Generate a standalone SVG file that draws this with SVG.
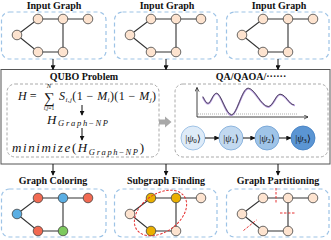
<svg xmlns="http://www.w3.org/2000/svg" xmlns:xlink="http://www.w3.org/1999/xlink" width="331" height="240" viewBox="0 0 331 240">
<style>
.title{font-family:"Liberation Serif","Times New Roman",serif;font-weight:bold;font-size:10px;fill:#111;text-anchor:middle}
.panel{fill:none;stroke:#9dc3e6;stroke-width:1.2;stroke-dasharray:4 3}
.inner{fill:none;stroke:#a0a0a0;stroke-width:0.9;stroke-dasharray:3 2}
.edge{stroke:#333;stroke-width:1.1;fill:none}
.n{fill:#fde3cf;stroke:#444;stroke-width:0.8}
.red{fill:#f26a52}
.blue{fill:#5aaee3}
.green{fill:#7dc95e}
.gold{fill:#eab000}
.math{font-family:"Liberation Serif","Times New Roman",serif;font-style:italic;fill:#111}
.up{font-style:normal}
.conn{stroke:#111;stroke-width:1;fill:none;marker-end:url(#ah)}
.cut{stroke:#e53030;stroke-width:1;stroke-dasharray:2.5 1.5;fill:none}
.psi{stroke-width:0.8}
</style>
<defs>
<marker id="ah" viewBox="0 0 6 6" refX="5" refY="3" markerWidth="5" markerHeight="5" orient="auto" markerUnits="userSpaceOnUse">
<path d="M0,0 L6,3 L0,6 Z" fill="#111"/>
</marker>
<marker id="ax" viewBox="0 0 6 6" refX="5" refY="3" markerWidth="5" markerHeight="5" orient="auto" markerUnits="userSpaceOnUse">
<path d="M0,0.5 L5,3 L0,5.5" fill="none" stroke="#111" stroke-width="0.8"/>
</marker>
<g id="edges">
<path class="edge" d="M17,35 L38,19 L88,19 M63,19 L63,52 L38,52 L17,35"/>
</g>
</defs>

<!-- Top panels -->
<g id="input1">
<text class="title" x="54" y="9">Input Graph</text>
<rect class="panel" x="1.5" y="12" width="104.5" height="47" rx="8"/>
<use xlink:href="#edges"/>
<circle class="n" cx="17" cy="35" r="4.8"/><circle class="n" cx="38" cy="19" r="4.8"/><circle class="n" cx="63" cy="19" r="4.8"/>
<circle class="n" cx="88" cy="19" r="4.8"/><circle class="n" cx="38" cy="52" r="4.8"/><circle class="n" cx="63" cy="52" r="4.8"/>
</g>
<g id="input2" transform="translate(113,0)">
<text class="title" x="54" y="9">Input Graph</text>
<rect class="panel" x="1.5" y="12" width="102.5" height="47" rx="8"/>
<use xlink:href="#edges"/>
<circle class="n" cx="17" cy="35" r="4.8"/><circle class="n" cx="38" cy="19" r="4.8"/><circle class="n" cx="63" cy="19" r="4.8"/>
<circle class="n" cx="88" cy="19" r="4.8"/><circle class="n" cx="38" cy="52" r="4.8"/><circle class="n" cx="63" cy="52" r="4.8"/>
</g>
<g id="input3" transform="translate(225,0)">
<text class="title" x="54" y="9">Input Graph</text>
<rect class="panel" x="1.5" y="12" width="102.5" height="47" rx="8"/>
<use xlink:href="#edges"/>
<circle class="n" cx="17" cy="35" r="4.8"/><circle class="n" cx="38" cy="19" r="4.8"/><circle class="n" cx="63" cy="19" r="4.8"/>
<circle class="n" cx="88" cy="19" r="4.8"/><circle class="n" cx="38" cy="52" r="4.8"/><circle class="n" cx="63" cy="52" r="4.8"/>
</g>

<!-- Middle box -->
<g id="process">
<rect x="1" y="69.5" width="329" height="94.5" fill="#fff" stroke="#555" stroke-width="1"/>
</g>

<g id="qubo">
<text class="title" x="84" y="80">QUBO Problem</text>
<rect class="inner" x="7" y="84" width="152" height="73" rx="8"/>
<text class="math" x="18" y="100" font-size="12">H <tspan class="up">=</tspan></text>
<text class="math up" x="49" y="102.5" font-size="15" text-anchor="middle" style="font-style:normal">∑</text>
<text class="math" x="49" y="87.5" font-size="6.5" text-anchor="middle">N</text>
<text class="math" x="49" y="110.3" font-size="5.5" text-anchor="middle">i,j<tspan class="up">=1</tspan></text>
<text class="math" x="59" y="100" font-size="12" textLength="97" lengthAdjust="spacing">S<tspan font-size="7" dy="2">i,j</tspan><tspan class="up" dy="-2">(1 − </tspan>M<tspan font-size="7" dy="2">i</tspan><tspan class="up" dy="-2">)(1 − </tspan>M<tspan font-size="7" dy="2">j</tspan><tspan class="up" dy="-2">)</tspan></text>
<text class="math" x="47" y="123.8" font-size="13" textLength="61" lengthAdjust="spacing">H<tspan font-size="8.5" dy="2.5">Graph<tspan class="up">−</tspan>NP</tspan></text>
<text class="math" x="12" y="152" font-size="13" textLength="132" lengthAdjust="spacing">minimize<tspan class="up">(</tspan>H<tspan font-size="8.5" dy="2.5">Graph<tspan class="up">−</tspan>NP</tspan><tspan class="up" dy="-2.5">)</tspan></text>
<line class="conn" x1="82" y1="105" x2="82" y2="115"/>
<line class="conn" x1="82" y1="128" x2="82" y2="140"/>
</g>

<g id="qaoa">
<text class="title" x="251" y="80">QA/QAOA/······</text>
<rect class="inner" x="175" y="84" width="153" height="73" rx="8"/>
<line x1="197" y1="117" x2="197" y2="87.5" stroke="#111" stroke-width="0.8" marker-end="url(#ax)"/>
<line x1="197" y1="117" x2="308" y2="117" stroke="#111" stroke-width="0.8" marker-end="url(#ax)"/>
<line x1="198" y1="114" x2="298" y2="114" stroke="#999" stroke-width="0.8" stroke-dasharray="1 1"/>
<path d="M202.7,97 C205,101 206,104 208.3,103.7 C211,103.5 213,93.5 216.7,93.7 C221,94 226,115.5 231.7,115.3 C237,115 242,88.5 248.3,88.7 C255,89 261,107 268.3,107 C273,107 276,94.7 280,94.7 C286,94.7 289,105.5 295,105.3" fill="none" stroke="#b79be0" stroke-width="1.8"/>
<path d="M202.7,96.5 C205,100.5 206,103.5 208.3,103.2 C211,103 213,93 216.7,93.2 C221,93.5 226,115 231.7,114.8 C237,114.5 242,88 248.3,88.2 C255,88.5 261,106.5 268.3,106.5 C273,106.5 276,94.2 280,94.2 C286,94.2 289,105 294,104.8" fill="none" stroke="#222" stroke-width="0.7"/>
<circle class="psi" cx="193" cy="138" r="12" fill="#deebf8" stroke="#8db6df"/>
<circle class="psi" cx="231" cy="138" r="12" fill="#c2d9f0" stroke="#7aa8d8"/>
<circle class="psi" cx="267" cy="138" r="12" fill="#9fc4e8" stroke="#6b9dd2"/>
<circle class="psi" cx="303" cy="138" r="12" fill="#5b95d3" stroke="#3f7cc0"/>
<text class="math up" x="193" y="141.5" font-size="10" text-anchor="middle" style="font-style:normal">|<tspan font-style="italic">ψ</tspan><tspan font-size="7" dy="1.5">0</tspan><tspan dy="-1.5">⟩</tspan></text>
<text class="math up" x="231" y="141.5" font-size="10" text-anchor="middle" style="font-style:normal">|<tspan font-style="italic">ψ</tspan><tspan font-size="7" dy="1.5">1</tspan><tspan dy="-1.5">⟩</tspan></text>
<text class="math up" x="267" y="141.5" font-size="10" text-anchor="middle" style="font-style:normal">|<tspan font-style="italic">ψ</tspan><tspan font-size="7" dy="1.5">2</tspan><tspan dy="-1.5">⟩</tspan></text>
<text class="math up" x="303" y="141.5" font-size="10" text-anchor="middle" style="font-style:normal">|<tspan font-style="italic">ψ</tspan><tspan font-size="7" dy="1.5">3</tspan><tspan dy="-1.5">⟩</tspan></text>
</g>

<!-- Bottom panels -->
<g id="coloring" transform="translate(0,179)">
<text class="title" x="53" y="5">Graph Coloring</text>
<rect class="panel" x="1.5" y="10" width="104.5" height="48" rx="8"/>
<use xlink:href="#edges"/>
<circle class="n blue" cx="17" cy="35" r="4.8"/><circle class="n red" cx="38" cy="19" r="4.8"/><circle class="n blue" cx="63" cy="19" r="4.8"/>
<circle class="n red" cx="88" cy="19" r="4.8"/><circle class="n red" cx="38" cy="52" r="4.8"/><circle class="n green" cx="63" cy="52" r="4.8"/>
</g>
<g id="subgraph" transform="translate(113,179)">
<text class="title" x="53" y="5">Subgraph Finding</text>
<rect class="panel" x="1.5" y="10" width="102.5" height="48" rx="8"/>
<use xlink:href="#edges"/>
<circle class="n" cx="17" cy="35" r="4.8"/><circle class="n gold" cx="38" cy="19" r="4.8"/><circle class="n gold" cx="63" cy="19" r="4.8"/>
<circle class="n" cx="88" cy="19" r="4.8"/><circle class="n gold" cx="38" cy="52" r="4.8"/><circle class="n" cx="63" cy="52" r="4.8"/>
<ellipse class="cut" cx="47.5" cy="34" rx="29" ry="19" transform="rotate(-35 47.5 34)"/>
</g>
<g id="partitioning" transform="translate(225,179)">
<text class="title" x="53" y="5">Graph Partitioning</text>
<rect class="panel" x="1.5" y="10" width="102.5" height="48" rx="8"/>
<use xlink:href="#edges"/>
<circle class="n" cx="17" cy="35" r="4.8"/><circle class="n" cx="38" cy="19" r="4.8"/><circle class="n" cx="63" cy="19" r="4.8"/>
<circle class="n" cx="88" cy="19" r="4.8"/><circle class="n" cx="38" cy="52" r="4.8"/><circle class="n" cx="63" cy="52" r="4.8"/>
<line class="cut" x1="51" y1="9" x2="51" y2="25"/>
<line class="cut" x1="55" y1="34" x2="71" y2="34"/>
<line class="cut" x1="18.5" y1="51.5" x2="31.5" y2="41"/>
</g>

<!-- Connectors -->
<g id="connectors">
<line class="conn" x1="53" y1="59" x2="53" y2="69.5"/>
<line class="conn" x1="166" y1="59" x2="166" y2="69.5"/>
<line class="conn" x1="278" y1="59" x2="278" y2="69.5"/>
<line class="conn" x1="53" y1="164" x2="53" y2="175"/>
<line class="conn" x1="166" y1="164" x2="166" y2="175"/>
<line class="conn" x1="278" y1="164" x2="278" y2="175"/>
<polygon points="159,119.5 165,119.5 165,116.5 171.5,122 165,127.5 165,124.5 159,124.5" fill="#a8a8a8"/>
<line class="conn" x1="205" y1="138" x2="218.5" y2="138"/>
<line class="conn" x1="243" y1="138" x2="254.5" y2="138"/>
<line class="conn" x1="279" y1="138" x2="290.5" y2="138"/>
</g>
</svg>
